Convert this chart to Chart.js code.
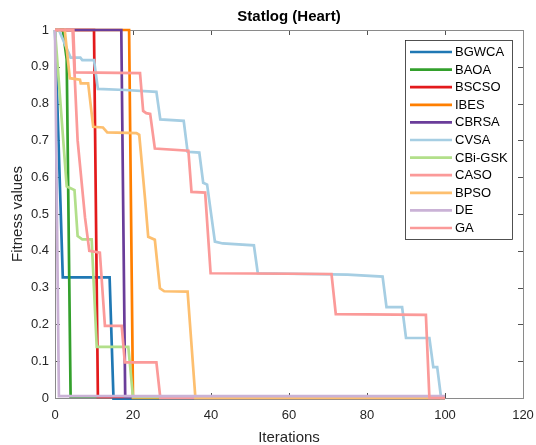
<!DOCTYPE html>
<html>
<head>
<meta charset="utf-8">
<script src="https://cdn.jsdelivr.net/npm/chart.js@4.4.1/dist/chart.umd.min.js"></script>
<style>
  html, body { margin: 0; padding: 0; background: #fff; }
  #wrap { width: 536px; height: 445px; }
</style>
</head>
<body>
<div id="wrap"><canvas id="convChart" width="536" height="445"></canvas></div>
<script>
// convergence curves (iteration, fitness)
const algorithms = ['BGWCA', 'BAOA', 'BSCSO', 'IBES', 'CBRSA', 'CVSA', 'CBi-GSK', 'CASO', 'BPSO', 'DE', 'GA'];

const bgwcaX = [0, 2, 14, 15, 100];
const bgwcaY = [1, 0.328, 0.328, -0.002, -0.002];

const baoaX = [0, 2, 3, 4, 100];
const baoaY = [1, 1, 0.92, 0.004, 0.004];

const bscsoX = [0, 10, 11, 100];
const bscsoY = [1, 1, 0.003, 0.003];

const ibesX = [0, 19, 20, 100];
const ibesY = [1, 1, 0, 0];

const cbrsaX = [0, 17, 18, 100];
const cbrsaY = [1, 1, 0.004, 0.004];

const cvsaX = [0, 1, 4, 6.5, 7, 10, 11, 18, 26, 27, 33, 34, 37, 38, 39, 41, 43, 51, 52, 75, 84, 85, 89, 90, 96, 97, 98, 99, 100];
const cvsaY = [1, 1, 0.925, 0.925, 0.918, 0.918, 0.84, 0.837, 0.832, 0.757, 0.753, 0.669, 0.667, 0.585, 0.58, 0.425, 0.42, 0.415, 0.339, 0.335, 0.33, 0.247, 0.247, 0.163, 0.163, 0.084, 0.084, 0, 0];

const cbigskX = [0, 3, 4, 5, 5.8, 7, 9.4, 10.7, 18.8, 20, 100];
const cbigskY = [1, 0.575, 0.57, 0.565, 0.44, 0.431, 0.431, 0.139, 0.139, 0.002, 0.002];

const casoX = [0, 4.5, 5.8, 7.7, 8.8, 11.5, 12.8, 17.1, 17.9, 26, 27, 100];
const casoY = [1, 1, 0.7, 0.49, 0.4, 0.395, 0.196, 0.196, 0.097, 0.097, 0, 0];

const bpsoX = [0, 2.5, 3.8, 6.4, 6.6, 8.5, 9.8, 12.3, 13.4, 20.9, 21.6, 23.1, 23.9, 25.6, 26.9, 28, 34, 36, 100];
const bpsoY = [1, 1, 0.869, 0.865, 0.855, 0.855, 0.737, 0.735, 0.722, 0.72, 0.715, 0.54, 0.438, 0.43, 0.298, 0.29, 0.289, 0, 0];

const deX = [0, 1, 100];
const deY = [1, 0.005, 0.005];

const gaX = [0, 4.7, 5.1, 21.8, 22.6, 23.4, 24.4, 25.6, 34.2, 35, 38.5, 39.9, 70.9, 72, 95.1, 96, 100];
const gaY = [1, 1, 0.885, 0.883, 0.78, 0.774, 0.772, 0.678, 0.672, 0.56, 0.558, 0.339, 0.337, 0.228, 0.226, 0, 0];

const seriesX = [bgwcaX, baoaX, bscsoX, ibesX, cbrsaX, cvsaX, cbigskX, casoX, bpsoX, deX, gaX];
const seriesY = [bgwcaY, baoaY, bscsoY, ibesY, cbrsaY, cvsaY, cbigskY, casoY, bpsoY, deY, gaY];

const xTicks = [0, 20, 40, 60, 80, 100, 120];
const yTicks = [0, 0.1, 0.2, 0.3, 0.4, 0.5, 0.6, 0.7, 0.8, 0.9, 1];

const colors = ['#1F78B4', '#33A02C', '#E31A1C', '#FF7F00', '#6A3D9A', '#A6CEE3', '#B2DF8A', '#FB9A99', '#FDBF6F', '#CAB2D6', '#FB9A99'];

const FONT = '"Liberation Sans", Arial, Helvetica, sans-serif';
const AXIS_COLOR = '#262626';

const datasets = algorithms.map((name, i) => ({
  label: name,
  data: seriesX[i].map((x, j) => ({ x, y: seriesY[i][j] })),
  borderColor: colors[i],
  backgroundColor: colors[i],
  borderWidth: 2.7,
  pointRadius: 0,
  fill: false,
  tension: 0,
  clip: false,
  order: algorithms.length - i   // later series on top, like matlab
}));

// box + inward ticks under the lines, title and legend on top
const matlabFrame = {
  id: 'matlabFrame',
  beforeDatasetsDraw(chart) {
    const { ctx, chartArea: a, scales: { x, y } } = chart;
    ctx.save();
    ctx.strokeStyle = AXIS_COLOR;
    ctx.lineWidth = 0.8;
    ctx.beginPath();
    xTicks.forEach(v => {
      const px = Math.round(x.getPixelForValue(v)) + 0.5;
      ctx.moveTo(px, a.bottom); ctx.lineTo(px, a.bottom - 5);
      ctx.moveTo(px, a.top); ctx.lineTo(px, a.top + 5);
    });
    yTicks.forEach(v => {
      const py = Math.round(y.getPixelForValue(v)) + 0.5;
      ctx.moveTo(a.left, py); ctx.lineTo(a.left + 5, py);
      ctx.moveTo(a.right, py); ctx.lineTo(a.right - 5, py);
    });
    ctx.stroke();
    ctx.strokeStyle = '#8a8a8a';
    ctx.lineWidth = 1;
    ctx.strokeRect(Math.round(a.left) + 0.5, Math.round(a.top) + 0.5, Math.round(a.width), Math.round(a.height));
    ctx.restore();
  },
  afterDraw(chart) {
    const { ctx, chartArea: a } = chart;
    ctx.save();
    // title
    ctx.fillStyle = '#000';
    ctx.font = 'bold 15px ' + FONT;
    ctx.textAlign = 'center';
    ctx.textBaseline = 'middle';
    ctx.fillText('Statlog (Heart)', (a.left + a.right) / 2, 17);

    // legend
    const lx = 405, ly = 40, lw = 107, lh = 199;
    ctx.fillStyle = '#fff';
    ctx.fillRect(lx, ly, lw, lh);
    ctx.strokeStyle = '#262626';
    ctx.lineWidth = 0.8;
    ctx.strokeRect(lx + 0.5, ly + 0.5, lw, lh);
    ctx.font = '13px ' + FONT;
    ctx.textAlign = 'left';
    chart.data.datasets.forEach((ds, i) => {
      const cy = 52 + i * 17.6;
      ctx.strokeStyle = ds.borderColor;
      ctx.lineWidth = 2.7;
      ctx.beginPath();
      ctx.moveTo(410, cy);
      ctx.lineTo(452, cy);
      ctx.stroke();
      ctx.fillStyle = '#000';
      ctx.fillText(ds.label, 455, cy + 0.5);
    });
    ctx.restore();
  }
};

new Chart(document.getElementById('convChart'), {
  type: 'line',
  data: { datasets },
  options: {
    responsive: false,
    animation: false,
    layout: { padding: { top: 30, right: 13, left: 0, bottom: 0 } },
    plugins: {
      legend: { display: false },
      title: { display: false },
      tooltip: { enabled: false }
    },
    scales: {
      x: {
        type: 'linear',
        min: 0,
        max: 120,
        afterFit: s => { s.height = 47; s.paddingLeft = 0; s.paddingRight = 0; },
        afterBuildTicks: s => { s.ticks = xTicks.map(v => ({ value: v })); },
        grid: { display: false, drawTicks: false },
        border: { display: false },
        ticks: { color: AXIS_COLOR, font: { family: FONT, size: 13 }, padding: 10, maxRotation: 0 },
        title: { display: true, text: 'Iterations', color: AXIS_COLOR, font: { family: FONT, size: 15 }, padding: { top: 0, bottom: -2 } }
      },
      y: {
        type: 'linear',
        min: 0,
        max: 1,
        afterFit: s => { s.width = 55; s.paddingTop = 0; s.paddingBottom = 0; },
        afterBuildTicks: s => { s.ticks = yTicks.map(v => ({ value: v })); },
        grid: { display: false, drawTicks: false },
        border: { display: false },
        ticks: { color: AXIS_COLOR, font: { family: FONT, size: 13 }, padding: 6, callback: v => String(v) },
        title: { display: true, text: 'Fitness values', color: AXIS_COLOR, font: { family: FONT, size: 15 }, padding: { top: 9, bottom: 0 } }
      }
    }
  },
  plugins: [matlabFrame]
});
</script>
</body>
</html>
